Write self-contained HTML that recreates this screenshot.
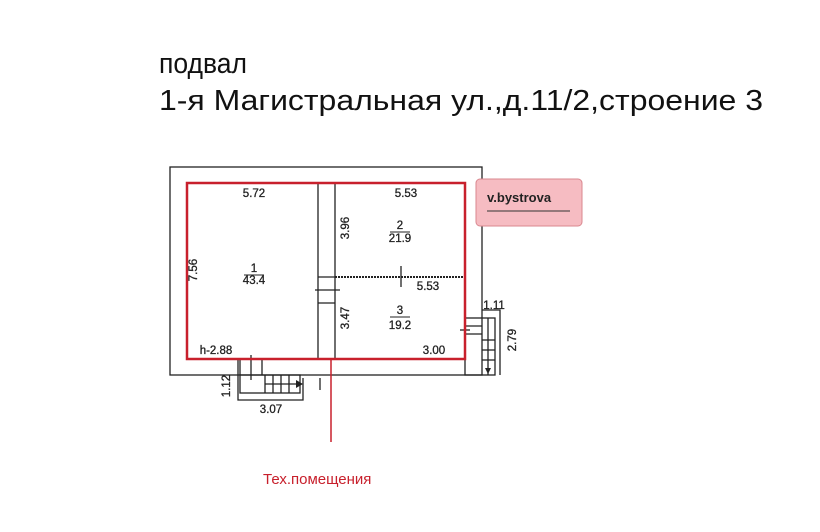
<!DOCTYPE html>
<html><head><meta charset="utf-8"><style>body{margin:0;background:#fff}svg{display:block}svg text{font-family:"Liberation Sans",Arial,sans-serif}</style></head>
<body>
<svg width="820" height="532" viewBox="0 0 820 532" xmlns="http://www.w3.org/2000/svg">
<rect width="820" height="532" fill="#fff"/>
<text x="159" y="73" font-size="29" fill="#111" textLength="88" lengthAdjust="spacingAndGlyphs">подвал</text>
<text x="159" y="110" font-size="29" fill="#111" textLength="604" lengthAdjust="spacingAndGlyphs">1-я Магистральная ул.,д.11/2,строение 3</text>
<g stroke="#222" fill="none" stroke-width="1.3">
<rect x="170" y="167" width="312" height="208"/>
<line x1="318" y1="183" x2="318" y2="360"/>
<line x1="335" y1="183" x2="335" y2="360"/>
<line x1="335" y1="277" x2="465" y2="277" stroke-dasharray="2,1" stroke-width="2"/>
<line x1="318" y1="277" x2="335" y2="277"/>
<line x1="315" y1="290" x2="340" y2="290"/>
<line x1="318" y1="303" x2="335" y2="303"/>
<line x1="401" y1="266" x2="401" y2="287"/>
<polyline points="482,310 500,310 500,375"/>
<rect x="465" y="318" width="30" height="57"/>
<line x1="465" y1="326" x2="482" y2="326"/><line x1="465" y1="334" x2="482" y2="334"/>
<line x1="482" y1="340" x2="495" y2="340"/><line x1="482" y1="350" x2="495" y2="350"/><line x1="482" y1="360" x2="495" y2="360"/>
<line x1="488" y1="318" x2="488" y2="375"/>
<line x1="460" y1="330" x2="470" y2="330"/>
<polyline points="238,360 238,400 303,400 303,378"/>
<rect x="240" y="375" width="60" height="18"/>
<line x1="240" y1="360" x2="240" y2="375"/><line x1="262" y1="360" x2="262" y2="375"/>
<line x1="265" y1="375" x2="265" y2="393"/><line x1="273" y1="375" x2="273" y2="393"/><line x1="281" y1="375" x2="281" y2="393"/><line x1="289" y1="375" x2="289" y2="393"/>
<line x1="265" y1="384" x2="300" y2="384"/>
<line x1="251" y1="355" x2="251" y2="380"/>
<line x1="320" y1="378" x2="320" y2="390"/>
</g>
<polygon points="296,380 303,384 296,388" fill="#222"/>
<polygon points="485,368 491,368 488,374" fill="#222"/>
<rect x="187" y="183" width="278" height="176" fill="none" stroke="#c8202c" stroke-width="2.5"/>
<line x1="331" y1="360" x2="331" y2="442" stroke="#c8202c" stroke-width="1.5"/>
<g font-size="11.5" fill="#222" text-anchor="middle" stroke="#222" stroke-width="0.3">
<text x="254" y="197">5.72</text>
<text x="406" y="197">5.53</text>
<text x="254" y="272">1</text>
<text x="254" y="284">43.4</text>
<text x="400" y="229">2</text>
<text x="400" y="242">21.9</text>
<text x="400" y="314">3</text>
<text x="400" y="329">19.2</text>
<text x="428" y="290">5.53</text>
<text x="434" y="354">3.00</text>
<text x="216" y="354">h-2.88</text>
<text x="494" y="309">1.11</text>
<text x="271" y="413">3.07</text>
<text transform="translate(349,228) rotate(-90)">3.96</text>
<text transform="translate(349,318) rotate(-90)">3.47</text>
<text transform="translate(197,270) rotate(-90)">7.56</text>
<text transform="translate(516,340) rotate(-90)">2.79</text>
<text transform="translate(230,386) rotate(-90)">1.12</text>
</g>
<g stroke="#222"><line x1="244" y1="275" x2="264" y2="275"/><line x1="390" y1="232" x2="410" y2="232"/><line x1="390" y1="317" x2="410" y2="317"/></g>
<text x="263" y="484" font-size="15" fill="#c8202c">Тех.помещения</text>
<rect x="476" y="179" width="106" height="47" rx="4" fill="#f6bcc2" stroke="#d9878f" stroke-width="1"/>
<text x="487" y="202" font-size="13" font-weight="bold" fill="#222">v.bystrova</text>
<line x1="487" y1="211" x2="570" y2="211" stroke="#333" stroke-width="1"/>
</svg>
</body></html>
